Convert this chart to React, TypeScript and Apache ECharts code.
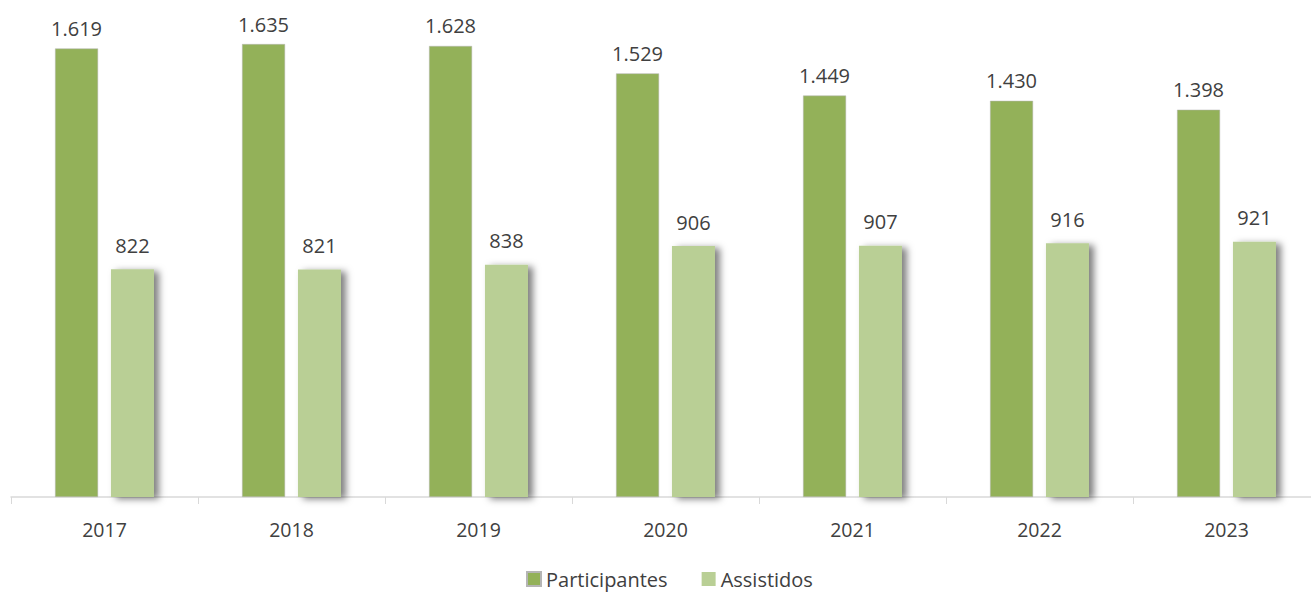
import React, { useEffect, useRef } from "react";
import * as echarts from "echarts";

const years = ["2017", "2018", "2019", "2020", "2021", "2022", "2023"];
const participantes = [1619, 1635, 1628, 1529, 1449, 1430, 1398];
const assistidos = [822, 821, 838, 906, 907, 916, 921];

const fmt = (v: number) => {
  const s = String(Math.round(v));
  return s.replace(/\B(?=(\d{3})+(?!\d))/g, ".");
};

const FONT = "'Open Sans', 'Noto Sans', sans-serif";

export default function App() {
  const ref = useRef<HTMLDivElement>(null);
  useEffect(() => {
    if (!ref.current) return;
    const chart = echarts.init(ref.current, undefined, { renderer: "svg" });
    chart.setOption({
      animation: false,
      backgroundColor: "#ffffff",
      grid: { left: 11, right: 0, top: 0, bottom: 95, containLabel: false },
      legend: {
        top: 564,
        left: 521,
        itemWidth: 14,
        itemHeight: 14,
        itemGap: 34,
        icon: "rect",
        textStyle: { fontFamily: FONT, fontSize: 20, color: "#404040" },
        data: ["Participantes", "Assistidos"],
      },
      xAxis: {
        type: "category",
        data: years,
        axisLine: { lineStyle: { color: "#d9d9d9", width: 1.5 } },
        axisTick: { show: true, length: 7, lineStyle: { color: "#d9d9d9" } },
        axisLabel: { fontFamily: FONT, fontSize: 19.5, color: "#404040", margin: 22 },
      },
      yAxis: {
        type: "value",
        min: 0,
        max: 1794,
        show: false,
        splitLine: { show: false },
      },
      series: [
        {
          name: "Participantes",
          type: "bar",
          data: participantes,
          barWidth: 43,
          barGap: "30%",
          itemStyle: { color: "#93b159", borderColor: "#b5b5b5", borderWidth: 0.5 },
          label: {
            show: true,
            position: "top",
            distance: 10,
            formatter: (p: any) => fmt(p.value),
            fontFamily: FONT,
            fontSize: 20,
            color: "#404040",
          },
        },
        {
          name: "Assistidos",
          type: "bar",
          data: assistidos,
          barWidth: 43,
          itemStyle: {
            color: "#b9cf95",
            shadowColor: "rgba(0,0,0,0.5)",
            shadowBlur: 7,
            shadowOffsetX: 5,
            shadowOffsetY: 2,
          },
          label: {
            show: true,
            position: "top",
            distance: 14,
            formatter: (p: any) => fmt(p.value),
            fontFamily: FONT,
            fontSize: 20,
            color: "#404040",
          },
        },
      ],
    });
    return () => chart.dispose();
  }, []);
  return (
    <div style={{ width: 1311, height: 592, overflow: "hidden", position: "absolute", left: 0, top: 0, background: "#fff" }}>
      <div ref={ref} style={{ width: 1320, height: 592 }} />
    </div>
  );
}
